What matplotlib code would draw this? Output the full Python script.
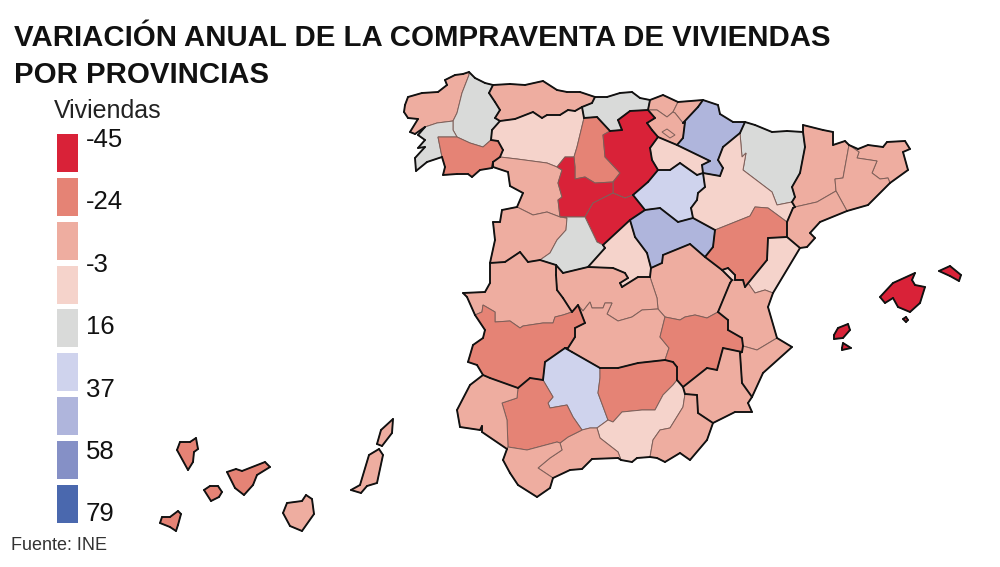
import matplotlib
matplotlib.use("Agg")
import matplotlib.pyplot as plt
from matplotlib.collections import LineCollection
from matplotlib.patches import Polygon

plt.rcParams['font.family'] = ['Liberation Sans', 'DejaVu Sans']

# escala de la leyenda
colores = ["#D92238", "#E58375", "#EEADA0", "#F5D3CB", "#D9DAD9", "#CFD3ED", "#AFB5DC", "#8590C6", "#4A68AE"]
etiquetas = ["-45", "-24", "-3", "16", "37", "58", "79"]
etiqueta_y = [140, 202, 265, 327, 390, 452, 514]
caja_arriba = [134, 178, 222, 266, 309, 353, 397, 441, 485]
caja_alto = [38, 38, 38, 38, 38, 38, 38, 38, 38]

# contornos de las provincias, en unidades del mapa
contornos = {
    "A Coruña": [(405,105),(408,97),(422,93),(438,92),(447,85),(445,80),(455,75),(463,74),(469,72),(469,75),(462,93),(457,113),(453,121),(437,123),(425,127),(415,134),(410,132),(418,119),(408,118),(404,112)],
    "Lugo": [(469,72),(475,78),(485,83),(493,85),(489,93),(495,102),(500,110),(495,118),(500,121),(492,130),(491,140),(483,147),(470,143),(457,137),(453,130),(453,121),(457,113),(462,93),(469,75)],
    "Pontevedra": [(453,121),(453,130),(457,137),(438,137),(442,157),(427,162),(416,171),(415,158),(425,147),(418,148),(425,140),(418,135),(425,127),(437,123)],
    "Ourense": [(438,137),(457,137),(470,143),(483,147),(491,140),(498,141),(503,150),(500,157),(493,162),(492,168),(480,170),(472,177),(468,174),(457,174),(443,175),(445,167),(442,157)],
    "Asturias": [(493,85),(510,84),(525,85),(543,81),(557,90),(567,92),(580,92),(595,97),(592,103),(582,107),(575,111),(568,110),(560,115),(547,115),(542,118),(533,112),(515,119),(500,121),(495,118),(500,110),(495,102),(489,93)],
    "Cantabria": [(595,97),(607,97),(620,93),(632,92),(640,98),(650,100),(648,110),(630,111),(618,120),(622,130),(610,131),(597,117),(584,118),(582,107),(592,103)],
    "Vizcaya": [(650,100),(663,95),(678,102),(673,112),(667,117),(657,110),(648,110)],
    "Guipúzcoa": [(678,102),(703,100),(698,107),(683,123),(675,113),(673,112)],
    "Álava": [(648,110),(657,110),(667,117),(673,112),(675,113),(683,123),(685,122),(683,138),(677,145),(658,137),(652,130),(647,123),(655,118)],
    "Navarra": [(703,100),(718,105),(720,114),(733,122),(745,122),(740,133),(723,147),(718,160),(723,168),(720,176),(703,173),(702,165),(710,161),(677,145),(683,138),(685,122),(683,123),(698,107)],
    "La Rioja": [(658,137),(677,145),(710,161),(702,165),(703,173),(697,175),(680,163),(670,170),(658,170),(652,160),(650,148)],
    "León": [(500,121),(515,119),(533,112),(542,118),(547,115),(560,115),(568,110),(575,111),(582,107),(584,118),(577,147),(574,157),(565,157),(557,167),(547,163),(517,159),(500,157),(503,150),(498,141),(491,140),(492,130)],
    "Palencia": [(584,118),(597,117),(610,131),(603,135),(605,157),(620,173),(613,182),(595,183),(585,177),(575,179),(575,167),(574,157),(577,147)],
    "Burgos": [(610,131),(622,130),(618,120),(630,111),(648,110),(655,118),(647,123),(652,130),(658,137),(650,148),(652,160),(658,170),(648,182),(633,195),(625,198),(613,193),(613,182),(620,173),(605,157),(603,135)],
    "Zamora": [(500,157),(517,159),(547,163),(557,167),(562,170),(558,183),(562,197),(558,200),(560,217),(547,212),(533,215),(517,207),(523,193),(510,186),(508,172),(493,167),(493,162)],
    "Valladolid": [(557,167),(565,157),(574,157),(575,167),(575,179),(585,177),(595,183),(613,182),(613,193),(593,203),(585,217),(560,217),(558,200),(562,197),(558,183),(562,170)],
    "Soria": [(658,170),(670,170),(680,163),(697,175),(703,173),(705,187),(698,193),(697,200),(691,208),(693,218),(678,222),(660,208),(645,210),(633,195),(648,182)],
    "Segovia": [(613,193),(625,198),(633,195),(645,210),(630,220),(603,245),(597,242),(585,217),(593,203)],
    "Salamanca": [(517,207),(533,215),(547,212),(560,217),(567,218),(566,230),(557,240),(550,253),(540,260),(528,262),(520,252),(505,262),(490,263),(495,240),(493,222),(500,222),(502,210)],
    "Ávila": [(560,217),(585,217),(597,242),(603,245),(605,248),(588,267),(563,273),(556,265),(540,260),(550,253),(557,240),(566,230),(567,218)],
    "Madrid": [(603,245),(630,220),(635,237),(647,253),(651,268),(650,277),(638,277),(622,287),(620,283),(628,278),(625,273),(613,268),(588,267),(605,248)],
    "Guadalajara": [(630,220),(645,210),(660,208),(678,222),(693,218),(715,230),(713,247),(705,257),(690,244),(663,255),(662,263),(651,268),(647,253),(635,237)],
    "Cuenca": [(651,268),(662,263),(663,255),(690,244),(705,257),(722,270),(732,280),(730,283),(718,312),(707,318),(695,315),(685,317),(680,320),(665,317),(658,309),(657,298),(650,277)],
    "Toledo": [(556,265),(563,273),(588,267),(613,268),(625,273),(628,278),(620,283),(622,287),(638,277),(650,277),(657,298),(658,309),(642,310),(632,317),(618,321),(607,314),(612,303),(605,303),(603,308),(592,308),(590,302),(583,311),(578,305),(572,312),(563,298),(557,290),(556,275)],
    "Ciudad Real": [(578,305),(583,311),(590,302),(592,308),(603,308),(605,303),(612,303),(607,314),(618,321),(632,317),(642,310),(658,309),(665,317),(660,337),(669,348),(665,360),(638,363),(618,368),(600,368),(572,352),(565,348),(568,348),(575,337),(575,328),(585,323)],
    "Albacete": [(665,317),(680,320),(685,317),(695,315),(707,318),(718,312),(728,320),(728,330),(742,338),(743,346),(742,352),(723,348),(717,370),(707,368),(683,387),(677,380),(677,367),(673,362),(665,360),(669,348),(660,337)],
    "Huesca": [(745,122),(755,125),(772,132),(787,131),(803,132),(805,147),(800,173),(792,187),(795,197),(792,202),(777,205),(772,192),(743,170),(746,153),(742,157),(740,133)],
    "Zaragoza": [(772,192),(777,205),(792,202),(795,207),(793,208),(787,222),(768,208),(755,207),(750,216),(715,230),(693,218),(691,208),(697,200),(698,193),(705,187),(703,173),(720,176),(723,168),(718,160),(723,147),(740,133),(742,157),(746,153),(743,170)],
    "Teruel": [(750,216),(755,207),(768,208),(787,222),(787,237),(768,238),(767,260),(745,287),(743,280),(735,280),(735,275),(728,268),(722,270),(705,257),(713,247),(715,230)],
    "Lleida": [(803,125),(823,130),(833,132),(833,145),(845,141),(849,145),(843,178),(835,179),(836,191),(817,202),(795,207),(792,202),(795,197),(792,187),(800,173),(805,147),(803,132)],
    "Girona": [(849,145),(858,149),(868,145),(883,147),(887,142),(905,141),(910,149),(903,152),(908,170),(890,183),(888,178),(880,179),(872,173),(877,161),(857,158),(859,152)],
    "Barcelona": [(849,145),(859,152),(857,158),(877,161),(872,173),(880,179),(888,178),(890,183),(868,205),(847,211),(836,191),(835,179),(843,178)],
    "Tarragona": [(795,207),(817,202),(836,191),(847,211),(820,222),(810,233),(815,238),(807,247),(800,248),(787,237),(787,222),(793,208)],
    "Castellón": [(768,238),(787,237),(800,248),(773,293),(765,290),(755,293),(748,283),(745,287),(767,260)],
    "Valencia": [(745,287),(748,283),(755,293),(765,290),(773,293),(768,307),(777,338),(757,350),(743,346),(742,338),(728,330),(728,320),(718,312),(730,283),(732,280),(735,280),(743,280)],
    "Ademuz": [(722,270),(728,268),(735,275),(735,280),(732,280)],
    "Alicante": [(743,346),(757,350),(777,338),(792,347),(763,373),(752,397),(742,383),(740,353),(742,352)],
    "Murcia": [(683,387),(707,368),(717,370),(723,348),(742,352),(740,353),(742,383),(752,397),(748,403),(752,412),(735,412),(713,423),(698,413),(697,395),(685,394)],
    "Cáceres": [(490,263),(505,262),(520,252),(528,262),(540,260),(556,265),(556,275),(557,290),(563,298),(572,312),(563,315),(555,317),(553,323),(543,323),(523,326),(520,328),(510,321),(495,322),(495,312),(483,305),(482,312),(475,315),(467,297),(463,293),(485,292),(490,283)],
    "Badajoz": [(475,315),(482,312),(483,305),(495,312),(495,322),(510,321),(520,328),(523,326),(543,323),(553,323),(555,317),(563,315),(572,312),(578,305),(585,323),(575,328),(575,337),(568,348),(565,348),(545,362),(543,380),(530,378),(518,388),(490,378),(483,375),(477,365),(468,362),(473,345),(483,338),(485,330)],
    "Córdoba": [(565,348),(572,352),(600,368),(600,378),(598,393),(608,420),(597,428),(590,428),(582,430),(573,417),(567,405),(550,408),(548,403),(553,397),(543,380),(545,362)],
    "Jaén": [(600,368),(618,368),(638,363),(665,360),(673,362),(677,367),(677,380),(673,385),(663,395),(655,410),(642,410),(622,412),(613,422),(608,420),(598,393),(600,378)],
    "Granada": [(608,420),(613,422),(622,412),(642,410),(655,410),(663,395),(673,385),(677,380),(683,387),(685,394),(683,407),(670,428),(660,430),(653,440),(650,457),(637,458),(632,462),(621,460),(618,452),(600,438),(597,428)],
    "Almería": [(685,394),(697,395),(698,413),(713,423),(707,440),(690,460),(680,453),(665,462),(657,458),(650,457),(653,440),(660,430),(670,428),(683,407)],
    "Málaga": [(582,430),(590,428),(597,428),(600,438),(618,452),(621,460),(618,458),(592,459),(582,469),(570,470),(553,478),(538,468),(550,458),(562,450),(560,443),(568,437)],
    "Sevilla": [(518,388),(530,378),(543,380),(553,397),(548,403),(550,408),(567,405),(573,417),(582,430),(568,437),(560,443),(557,442),(527,450),(508,447),(507,420),(502,403),(517,398)],
    "Huelva": [(483,375),(490,378),(518,388),(517,398),(502,403),(507,420),(508,447),(507,449),(482,432),(482,426),(480,430),(460,427),(457,410),(470,385)],
    "Cádiz": [(508,447),(527,450),(557,442),(560,443),(562,450),(550,458),(538,468),(553,478),(550,488),(537,497),(518,485),(510,473),(503,460),(507,449)],
    "Mallorca": [(880,297),(893,283),(915,273),(912,280),(915,285),(925,287),(920,303),(910,312),(898,307),(893,298),(885,303)],
    "Menorca": [(939,271),(950,266),(961,275),(959,281),(950,276)],
    "Ibiza": [(834,335),(838,328),(848,324),(850,330),(843,338),(834,339)],
    "Formentera": [(842,348),(843,343),(851,348),(842,350)],
    "Cabrera": [(903,319),(906,317),(908,320),(906,322)],
    "La Palma": [(177,450),(180,442),(190,442),(196,438),(198,449),(194,452),(193,462),(188,470)],
    "La Gomera": [(204,490),(210,486),(218,486),(222,492),(219,497),(211,501)],
    "Tenerife": [(227,472),(236,469),(242,471),(265,462),(270,467),(257,475),(253,485),(244,495),(235,488)],
    "El Hierro": [(160,523),(162,517),(170,517),(178,511),(181,514),(178,525),(176,531),(170,527)],
    "Gran Canaria": [(283,513),(287,503),(302,501),(306,495),(312,499),(314,514),(302,531),(290,526)],
    "Fuerteventura": [(351,490),(360,485),(369,455),(379,449),(383,455),(377,483),(367,486),(361,493)],
    "Lanzarote": [(377,444),(381,430),(393,419),(392,433),(382,446)],
}

# clase de color de cada provincia (indice en colores)
clase = {
    "A Coruña": 2, "Lugo": 4, "Pontevedra": 4, "Ourense": 1, "Asturias": 2, "Cantabria": 4,
    "Vizcaya": 2, "Guipúzcoa": 2, "Álava": 2, "Navarra": 6, "La Rioja": 3, "León": 3,
    "Palencia": 1, "Burgos": 0, "Zamora": 2, "Valladolid": 0, "Soria": 5, "Segovia": 0,
    "Salamanca": 2, "Ávila": 4, "Madrid": 3, "Guadalajara": 6, "Cuenca": 2, "Toledo": 2,
    "Ciudad Real": 2, "Albacete": 1, "Huesca": 4, "Zaragoza": 3, "Teruel": 1, "Lleida": 2,
    "Girona": 2, "Barcelona": 2, "Tarragona": 2, "Castellón": 3, "Valencia": 2, "Ademuz": 3,
    "Alicante": 2, "Murcia": 2, "Cáceres": 2, "Badajoz": 1, "Córdoba": 5, "Jaén": 1,
    "Granada": 3, "Almería": 2, "Málaga": 2, "Sevilla": 1, "Huelva": 2, "Cádiz": 2,
    "Mallorca": 0, "Menorca": 0, "Ibiza": 0, "Formentera": 0, "Cabrera": 0, "La Palma": 1,
    "La Gomera": 1, "Tenerife": 1, "El Hierro": 1, "Gran Canaria": 2, "Fuerteventura": 2, "Lanzarote": 2,
}

# grupos: la linea gruesa solo va entre grupos distintos
comunidades = {
    "Galicia": ["A Coruña", "Lugo", "Pontevedra", "Ourense"],
    "Pais Vasco": ["Vizcaya", "Guipúzcoa", "Álava"],
    "CyL": ["León", "Palencia", "Burgos", "Zamora", "Valladolid", "Segovia", "Salamanca", "Ávila"],
    "CLM": ["Cuenca", "Toledo", "Ciudad Real", "Albacete"],
    "Aragon": ["Huesca", "Zaragoza", "Teruel"],
    "Cataluña": ["Lleida", "Girona", "Barcelona", "Tarragona"],
    "Valencia": ["Castellón", "Valencia", "Ademuz", "Alicante"],
    "Extremadura": ["Cáceres", "Badajoz"],
    "Andalucia": ["Córdoba", "Jaén", "Granada", "Almería", "Málaga", "Sevilla", "Huelva", "Cádiz"],
}
comunidad_de = {}
for com in comunidades:
    for prov in comunidades[com]:
        comunidad_de[prov] = com

trevino = [(662,132),(667,129),(675,135),(670,138)]

fig = plt.figure(figsize=(10, 5.67), dpi=100)
ax = fig.add_axes([0, 0, 1, 1])
ax.set_xlim(0, 1000)
ax.set_ylim(567, 0)
ax.axis("off")

# provincias con borde fino
aristas = {}
for nombre in contornos:
    pts = contornos[nombre]
    ax.add_patch(Polygon(pts, closed=True, facecolor=colores[clase[nombre]], edgecolor="#7E5F59", linewidth=0.7, zorder=2))
    for i in range(len(pts)):
        a = pts[i]
        b = pts[(i + 1) % len(pts)]
        aristas.setdefault(tuple(sorted((a, b))), []).append(comunidad_de.get(nombre, nombre))
ax.add_patch(Polygon(trevino, closed=True, facecolor=colores[2], edgecolor="#7E5F59", linewidth=0.7, zorder=2))

# borde grueso: costa, frontera y limites de comunidad
gruesas = []
for arista in aristas:
    coms = aristas[arista]
    if len(coms) == 1 or coms[0] != coms[1]:
        gruesas.append(arista)
ax.add_collection(LineCollection(gruesas, colors="#111111", linewidths=1.35, capstyle="round", zorder=3))

# leyenda
ax.bar([67.5] * len(colores), caja_alto, width=21, bottom=caja_arriba, color=colores)
for i in range(len(etiquetas)):
    ax.text(86, etiqueta_y[i], etiquetas[i], fontsize=18.5, color="#111111", va="center", ha="left")
ax.text(54, 111, "Viviendas", fontsize=18, color="#222222", va="center", ha="left")

ax.text(14, 38, "VARIACIÓN ANUAL DE LA COMPRAVENTA DE VIVIENDAS", fontsize=21.2, fontweight="bold", color="#111111", va="center", ha="left")
ax.text(14, 75, "POR PROVINCIAS", fontsize=21.2, fontweight="bold", color="#111111", va="center", ha="left")
ax.text(11, 545, "Fuente: INE", fontsize=13, color="#333333", va="center", ha="left")

fig.savefig("out.png", dpi=100)
